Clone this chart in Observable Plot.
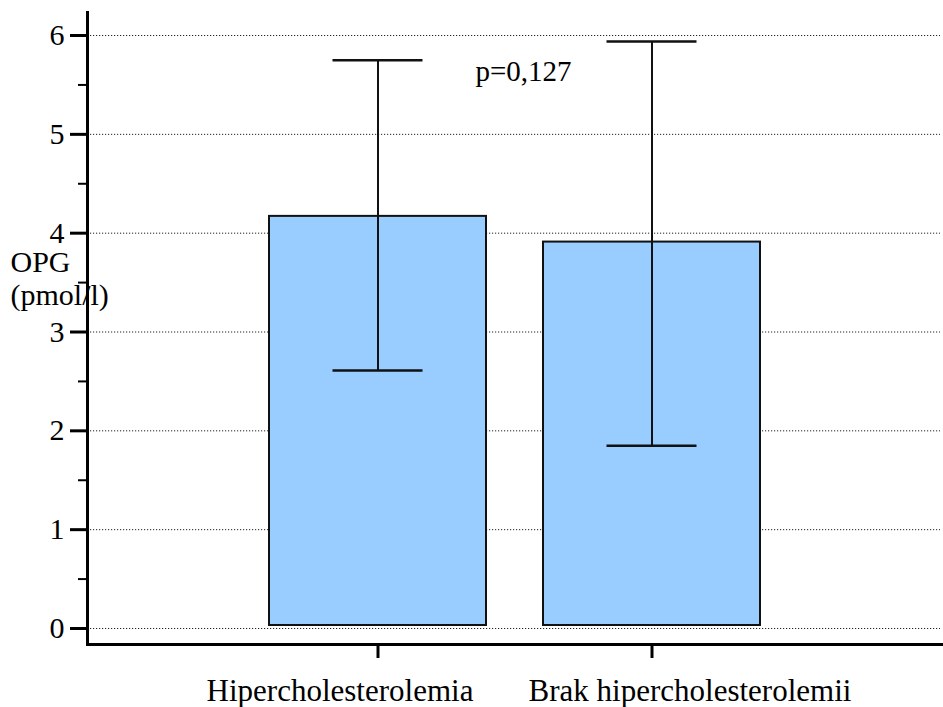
<!DOCTYPE html>
<html>
<head>
<meta charset="utf-8">
<script src="https://cdn.jsdelivr.net/npm/d3@7"></script>
<script src="https://cdn.jsdelivr.net/npm/@observablehq/plot@0.6"></script>
<style>
  html, body { margin: 0; padding: 0; background: #fff; }
</style>
</head>
<body>
<div id="chart"></div>
<script>
// OPG concentration by hypercholesterolemia status: mean with error range
const categories = ["Hipercholesterolemia", "Brak hipercholesterolemii"];
const means = [4.17, 3.91];
const lows = [2.61, 1.85];
const highs = [5.75, 5.94];
const majorTicks = [0, 1, 2, 3, 4, 5, 6];
const minorTicks = [0.5, 1.5, 2.5, 3.5, 4.5, 5.5];
const axisTitle = "OPG\n(pmol/l)";
const pValueText = "p=0,127";

const rows = categories.map((c, i) => ({category: c, mean: means[i], low: lows[i], high: highs[i]}));

const font = "'Liberation Serif', 'Times New Roman', serif";

const chart = Plot.plot({
  width: 943,
  height: 707,
  marginLeft: 87,
  marginRight: 0,
  marginTop: 12,
  marginBottom: 63,
  style: {fontFamily: font, fontSize: "29px", background: "white", color: "black"},
  x: {domain: categories, range: [241, 789], paddingInner: 0.208, paddingOuter: 0.104, label: null},
  y: {domain: [-0.162, 6.233], label: null},
  marks: [
    // dotted reference lines at whole units
    Plot.ruleY(majorTicks, {stroke: "#222", strokeWidth: 1, strokeDasharray: "1.2,1.8", insetRight: 3}),
    // bars
    Plot.barY(rows, {x: "category", y: "mean", fill: "#99ccff", stroke: "#111", strokeWidth: 2, insetBottom: 3}),
    // error bars
    Plot.ruleX(rows, {x: "category", y1: "low", y2: "high", stroke: "#111", strokeWidth: 2}),
    Plot.tickY(rows, {x: "category", y: "high", stroke: "#111", strokeWidth: 2.5, insetLeft: 63.5, insetRight: 63.5}),
    Plot.tickY(rows, {x: "category", y: "low", stroke: "#111", strokeWidth: 2.5, insetLeft: 63.5, insetRight: 63.5}),
    // axes
    Plot.axisY(majorTicks, {tickSize: 17, tickPadding: 6, strokeWidth: 3, fontSize: 30, fontWeight: "normal", tickFormat: d => String(d), label: null}),
    Plot.axisY(minorTicks, {tickSize: 9, strokeWidth: 2, tickFormat: () => "", label: null}),
    Plot.axisX({tickSize: 14, strokeWidth: 3, tickFormat: () => "", label: null}),
    Plot.frame({anchor: "left", strokeWidth: 3}),
    Plot.frame({anchor: "bottom", strokeWidth: 3}),
    // category labels
    Plot.text(rows.slice(0, 1), {x: "category", text: "category", frameAnchor: "bottom", dy: 56, dx: -38, lineAnchor: "bottom", fontSize: 31}),
    Plot.text(rows.slice(1, 2), {x: "category", text: "category", frameAnchor: "bottom", dy: 56, dx: 38, lineAnchor: "bottom", fontSize: 31}),
    // y-axis title
    Plot.text([axisTitle], {frameAnchor: "top-left", dx: -77, dy: 235, textAnchor: "start", lineAnchor: "top", lineHeight: 1.13, fontSize: 30}),
    // p-value annotation
    Plot.text([pValueText], {frameAnchor: "top-left", dx: 388, dy: 68, textAnchor: "start", lineAnchor: "bottom", fontSize: 29})
  ]
});

document.getElementById("chart").appendChild(chart);
</script>
</body>
</html>
